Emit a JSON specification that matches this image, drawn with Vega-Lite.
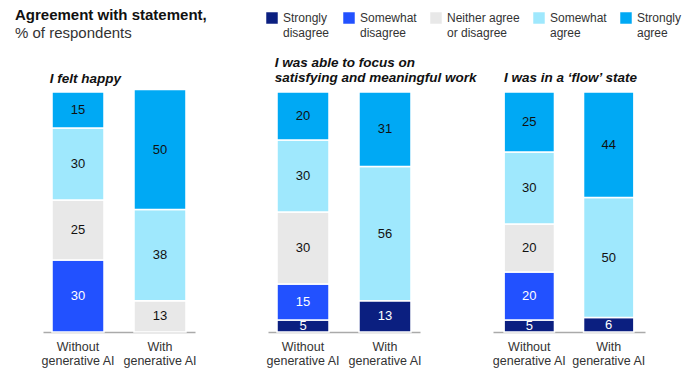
{
  "$schema": "https://vega.github.io/schema/vega-lite/v6.json",
  "padding": {"left": 15, "top": 8, "right": 5, "bottom": 2},
  "background": "white",
  "bounds": "flush",
  "config": {
    "font": "Liberation Sans",
    "view": {"stroke": null},
    "concat": {"spacing": 73},
    "style": {"guide-label": {"lineHeight": 15}}
  },
  "title": {
    "text": "Agreement with statement,",
    "subtitle": "% of respondents",
    "anchor": "start",
    "frame": "group",
    "dx": -28,
    "fontSize": 15,
    "fontWeight": "bold",
    "color": "#111111",
    "subtitleFontSize": 15,
    "subtitleColor": "#333333",
    "subtitlePadding": 3,
    "offset": -29
  },
  "datasets": {
    "survey": [
      {"panel": "happy", "cond": "Without generative AI", "cat": "Somewhat disagree", "o": 2, "v": 30},
      {"panel": "happy", "cond": "Without generative AI", "cat": "Neither agree or disagree", "o": 3, "v": 25},
      {"panel": "happy", "cond": "Without generative AI", "cat": "Somewhat agree", "o": 4, "v": 30},
      {"panel": "happy", "cond": "Without generative AI", "cat": "Strongly agree", "o": 5, "v": 15},
      {"panel": "happy", "cond": "With generative AI", "cat": "Neither agree or disagree", "o": 3, "v": 13},
      {"panel": "happy", "cond": "With generative AI", "cat": "Somewhat agree", "o": 4, "v": 38},
      {"panel": "happy", "cond": "With generative AI", "cat": "Strongly agree", "o": 5, "v": 50},
      {"panel": "focus", "cond": "Without generative AI", "cat": "Strongly disagree", "o": 1, "v": 5},
      {"panel": "focus", "cond": "Without generative AI", "cat": "Somewhat disagree", "o": 2, "v": 15},
      {"panel": "focus", "cond": "Without generative AI", "cat": "Neither agree or disagree", "o": 3, "v": 30},
      {"panel": "focus", "cond": "Without generative AI", "cat": "Somewhat agree", "o": 4, "v": 30},
      {"panel": "focus", "cond": "Without generative AI", "cat": "Strongly agree", "o": 5, "v": 20},
      {"panel": "focus", "cond": "With generative AI", "cat": "Strongly disagree", "o": 1, "v": 13},
      {"panel": "focus", "cond": "With generative AI", "cat": "Somewhat agree", "o": 4, "v": 56},
      {"panel": "focus", "cond": "With generative AI", "cat": "Strongly agree", "o": 5, "v": 31},
      {"panel": "flow", "cond": "Without generative AI", "cat": "Strongly disagree", "o": 1, "v": 5},
      {"panel": "flow", "cond": "Without generative AI", "cat": "Somewhat disagree", "o": 2, "v": 20},
      {"panel": "flow", "cond": "Without generative AI", "cat": "Neither agree or disagree", "o": 3, "v": 20},
      {"panel": "flow", "cond": "Without generative AI", "cat": "Somewhat agree", "o": 4, "v": 30},
      {"panel": "flow", "cond": "Without generative AI", "cat": "Strongly agree", "o": 5, "v": 25},
      {"panel": "flow", "cond": "With generative AI", "cat": "Strongly disagree", "o": 1, "v": 6},
      {"panel": "flow", "cond": "With generative AI", "cat": "Somewhat agree", "o": 4, "v": 50},
      {"panel": "flow", "cond": "With generative AI", "cat": "Strongly agree", "o": 5, "v": 44}
    ]
  },
  "hconcat": [
    {
      "width": 152,
      "height": 240,
      "data": {"name": "survey"},
      "transform": [
        {"filter": "datum.panel == 'happy'"},
        {"stack": "v", "groupby": ["cond"], "sort": [{"field": "o"}], "as": ["v0", "v1"]}
      ],
      "title": {"text": "I felt happy", "anchor": "start", "dx": 9, "fontSize": 13.5, "fontWeight": "bold", "fontStyle": "italic", "color": "#111111", "offset": 3.5, "lineHeight": 15},
      "encoding": {
        "x": {"field": "cond", "type": "nominal", "sort": ["Without generative AI", "With generative AI"],
          "scale": {"paddingInner": 0.366, "paddingOuter": 0.11},
          "axis": {"title": null, "labelAngle": 0, "ticks": false, "domainColor": "#aaaaaa", "domainWidth": 1.5, "labelColor": "#333333", "labelFontSize": 12.5, "labelPadding": 8, "labelLineHeight": 14, "labelExpr": "split(replace(datum.label, ' generative', '|generative'), '|')"}}
      },
      "layer": [
        {
          "mark": {"type": "bar", "stroke": "white", "strokeWidth": 1.5},
          "encoding": {
            "y": {"field": "v0", "type": "quantitative", "scale": {"domain": [0, 100]}, "axis": null},
            "y2": {"field": "v1"},
            "color": {"field": "cat", "type": "nominal", "scale": {"domain": ["Strongly disagree", "Somewhat disagree", "Neither agree or disagree", "Somewhat agree", "Strongly agree"], "range": ["#0b1f80", "#2251ff", "#e8e8e8", "#9fe8fd", "#00a9f4"]},
              "legend": {"orient": "none", "legendX": 223, "legendY": -80, "direction": "horizontal", "title": null, "symbolType": "square", "symbolSize": 132, "symbolStrokeWidth": 0, "labelFontSize": 12, "labelColor": "#333333", "columnPadding": 13, "labelOffset": 5, "labelLimit": 200,
                "labelExpr": "datum.label == 'Neither agree or disagree' ? ['Neither agree', 'or disagree'] : split(datum.label, ' ')"}}
          }
        },
        {
          "transform": [{"fold": ["v0", "v1"], "as": ["k", "pos"]}],
          "mark": {"type": "text", "fontSize": 13},
          "encoding": {
            "y": {"aggregate": "mean", "field": "pos", "type": "quantitative", "scale": {"domain": [0, 100]}, "axis": null},
            "text": {"field": "v", "type": "quantitative"},
            "detail": {"field": "cat"},
            "color": {"condition": {"test": "datum.cat == 'Strongly disagree' || datum.cat == 'Somewhat disagree'", "value": "white"}, "value": "#111111"}
          }
        }
      ]
    },
    {
      "width": 152,
      "height": 240,
      "data": {"name": "survey"},
      "transform": [
        {"filter": "datum.panel == 'focus'"},
        {"stack": "v", "groupby": ["cond"], "sort": [{"field": "o"}], "as": ["v0", "v1"]}
      ],
      "title": {"text": ["I was able to focus on", "satisfying and meaningful work"], "anchor": "start", "dx": 9, "fontSize": 13.5, "fontWeight": "bold", "fontStyle": "italic", "color": "#111111", "offset": 7, "lineHeight": 15},
      "encoding": {
        "x": {"field": "cond", "type": "nominal", "sort": ["Without generative AI", "With generative AI"],
          "scale": {"paddingInner": 0.366, "paddingOuter": 0.11},
          "axis": {"title": null, "labelAngle": 0, "ticks": false, "domainColor": "#aaaaaa", "domainWidth": 1.5, "labelColor": "#333333", "labelFontSize": 12.5, "labelPadding": 8, "labelLineHeight": 14, "labelExpr": "split(replace(datum.label, ' generative', '|generative'), '|')"}}
      },
      "layer": [
        {
          "mark": {"type": "bar", "stroke": "white", "strokeWidth": 1.5},
          "encoding": {
            "y": {"field": "v0", "type": "quantitative", "scale": {"domain": [0, 100]}, "axis": null},
            "y2": {"field": "v1"},
            "color": {"field": "cat", "type": "nominal"}
          }
        },
        {
          "transform": [{"fold": ["v0", "v1"], "as": ["k", "pos"]}],
          "mark": {"type": "text", "fontSize": 13},
          "encoding": {
            "y": {"aggregate": "mean", "field": "pos", "type": "quantitative", "scale": {"domain": [0, 100]}, "axis": null},
            "text": {"field": "v", "type": "quantitative"},
            "detail": {"field": "cat"},
            "color": {"condition": {"test": "datum.cat == 'Strongly disagree' || datum.cat == 'Somewhat disagree'", "value": "white"}, "value": "#111111"}
          }
        }
      ]
    },
    {
      "width": 152,
      "height": 240,
      "data": {"name": "survey"},
      "transform": [
        {"filter": "datum.panel == 'flow'"},
        {"stack": "v", "groupby": ["cond"], "sort": [{"field": "o"}], "as": ["v0", "v1"]}
      ],
      "title": {"text": "I was in a ‘flow’ state", "anchor": "start", "dx": 12, "fontSize": 13.5, "fontWeight": "bold", "fontStyle": "italic", "color": "#111111", "offset": 7, "lineHeight": 15},
      "encoding": {
        "x": {"field": "cond", "type": "nominal", "sort": ["Without generative AI", "With generative AI"],
          "scale": {"paddingInner": 0.366, "paddingOuter": 0.14},
          "axis": {"title": null, "labelAngle": 0, "ticks": false, "domainColor": "#aaaaaa", "domainWidth": 1.5, "labelColor": "#333333", "labelFontSize": 12.5, "labelPadding": 8, "labelLineHeight": 14, "labelExpr": "split(replace(datum.label, ' generative', '|generative'), '|')"}}
      },
      "layer": [
        {
          "mark": {"type": "bar", "stroke": "white", "strokeWidth": 1.5},
          "encoding": {
            "y": {"field": "v0", "type": "quantitative", "scale": {"domain": [0, 100]}, "axis": null},
            "y2": {"field": "v1"},
            "color": {"field": "cat", "type": "nominal"}
          }
        },
        {
          "transform": [{"fold": ["v0", "v1"], "as": ["k", "pos"]}],
          "mark": {"type": "text", "fontSize": 13},
          "encoding": {
            "y": {"aggregate": "mean", "field": "pos", "type": "quantitative", "scale": {"domain": [0, 100]}, "axis": null},
            "text": {"field": "v", "type": "quantitative"},
            "detail": {"field": "cat"},
            "color": {"condition": {"test": "datum.cat == 'Strongly disagree' || datum.cat == 'Somewhat disagree'", "value": "white"}, "value": "#111111"}
          }
        }
      ]
    }
  ]
}
